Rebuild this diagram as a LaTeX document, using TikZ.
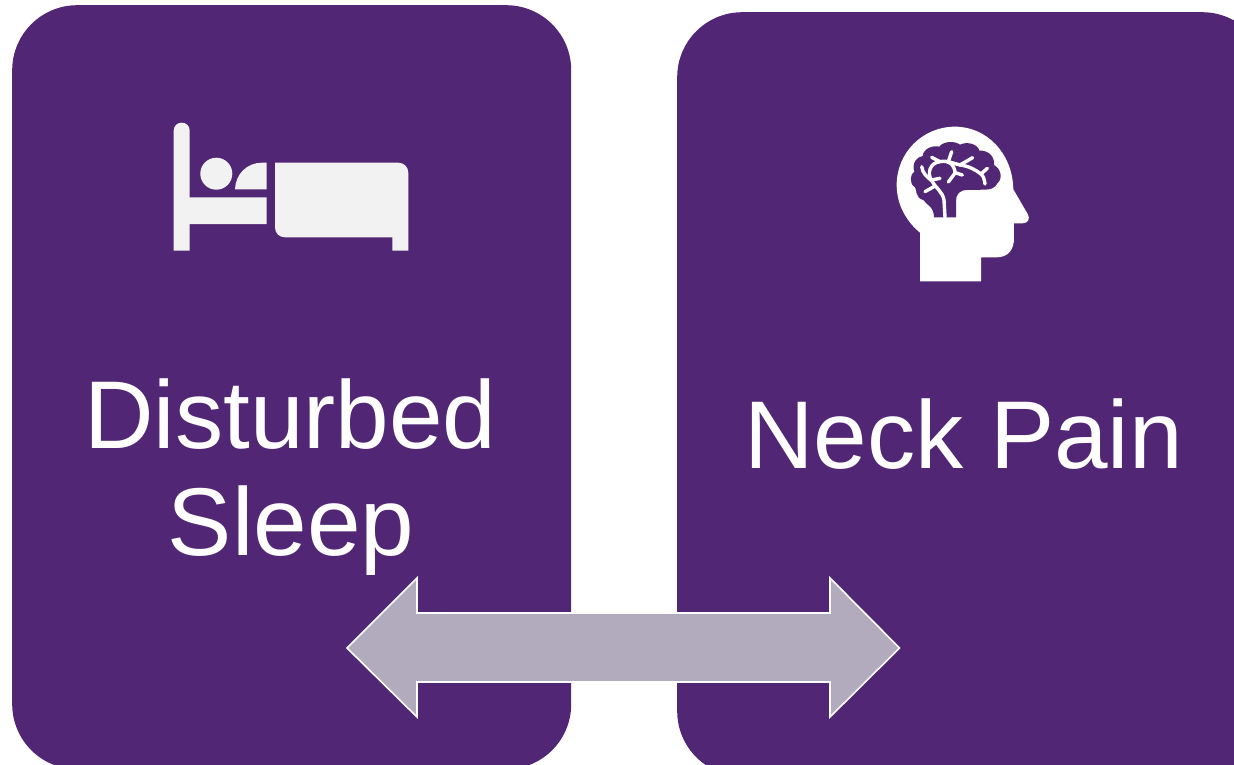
\documentclass[tikz,border=0pt]{standalone}
\usepackage{fontspec}
\setmainfont{Liberation Sans}
\definecolor{cardpurple}{HTML}{512675}
\definecolor{arrowgrey}{HTML}{B2ABBE}
\definecolor{bedgrey}{HTML}{F2F2F2}
\tikzset{
  cardbox/.style={fill=cardpurple,draw=none,rounded corners=65pt,inner sep=0pt,anchor=north west},
  cardtext/.style={text=white,font=\fontsize{96.3}{107}\selectfont,anchor=base,inner sep=0pt},
  vein/.style={draw=white,line width=3.4pt,line cap=round,line join=round}
}
\begin{document}
\begin{tikzpicture}[x=1pt,y=-1pt]
\clip (0,0) rectangle (1234,764);
\fill[white] (0,0) rectangle (1234,764);
% cards
\node[cardbox,minimum width=559pt,minimum height=764pt] (left) at (12,5) {};
\node[cardbox,minimum width=590pt,minimum height=764pt] (right) at (677,12) {};
% bed
\fill[bedgrey] (173.7,250.7) -- (173.7,130.7) .. controls (173.7,120) and (189.7,120) .. (189.7,130.7)
  -- (189.7,197.3) -- (266.7,197.3) -- (266.7,224) -- (189.7,224) -- (189.7,250.7) -- cycle;
\fill[bedgrey] (216.3,173.7) circle[radius=16];
\fill[bedgrey] (235,189.3) .. controls (235.5,174) and (247,162.7) .. (262,162.7)
  -- (266.7,162.7) -- (266.7,189.3) -- cycle;
\fill[bedgrey] (275,162.7) -- (398.3,162.7) .. controls (404,162.7) and (408.3,167) .. (408.3,172.7)
  -- (408.3,250.7) -- (392.3,250.7) -- (392.3,237.3) -- (285,237.3)
  .. controls (279,237.3) and (275,233) .. (275,227.3) -- cycle;
% head
\begin{scope}[shift={(880,110)},x=0.3333pt,y=-0.3333pt]
\fill[white] (120,514) -- (303,514) -- (303,442) -- (350,442)
  .. controls (385,442) and (402,418) .. (402,385) -- (402,340) -- (428,340)
  .. controls (445,340) and (451,325) .. (443,312)
  -- (400,238) .. controls (398,130) and (320,50) .. (225,50)
  .. controls (128,50) and (50,128) .. (50,225)
  .. controls (50,285) and (80,335) .. (120,368) -- cycle;
\fill[cardpurple] (162,322) .. controls (162,290) and (140,285) .. (130,270)
  .. controls (105,265) and (110,235) .. (105,232)
  .. controls (85,220) and (92,190) .. (103,185)
  .. controls (95,160) and (110,140) .. (128,138)
  .. controls (130,115) and (160,105) .. (178,110)
  .. controls (190,93) and (225,92) .. (240,104)
  .. controls (265,92) and (295,105) .. (298,122)
  .. controls (325,120) and (345,140) .. (342,165)
  .. controls (362,175) and (370,205) .. (352,220)
  .. controls (345,235) and (330,239) .. (315,239)
  -- (262,240) .. controls (240,240) and (228,252) .. (228,272) -- (228,322) -- cycle;
\draw[vein] (195,322) -- (192,270) .. controls (188,245) and (165,232) .. (155,212)
  .. controls (140,190) and (150,158) .. (180,155) .. controls (205,150) and (222,160) .. (226,190);
\draw[vein] (125,170) .. controls (128,190) and (140,200) .. (155,212);
\draw[vein] (155,210) -- (180,205);
\draw[vein] (135,245) -- (165,228);
\draw[vein] (155,142) -- (180,155);
\draw[vein] (215,125) -- (205,155);
\draw[vein] (205,155) -- (240,165) -- (278,143);
\draw[vein] (240,165) .. controls (265,168) and (285,178) .. (303,192) -- (322,175);
\draw[vein] (303,192) .. controls (312,200) and (313,210) .. (315,222);
\draw[vein] (226,188) -- (205,216);
\draw[vein] (226,188) -- (247,195);
\end{scope}
% labels
\node[cardtext] (dist) at (290.5,448) {Disturbed};
\node[cardtext] (sleep) at (291,555) {Sleep};
\node[cardtext] (neck) at (963.5,468) {Neck Pain};
% double arrow
\draw[fill=arrowgrey,draw=white,line width=1.6pt,line join=miter]
  (347,648) -- (417,578) -- (417,613) -- (830,613) -- (830,578) -- (899.5,648)
  -- (830,717) -- (830,682) -- (417,682) -- (417,717) -- cycle;
\end{tikzpicture}
\end{document}
